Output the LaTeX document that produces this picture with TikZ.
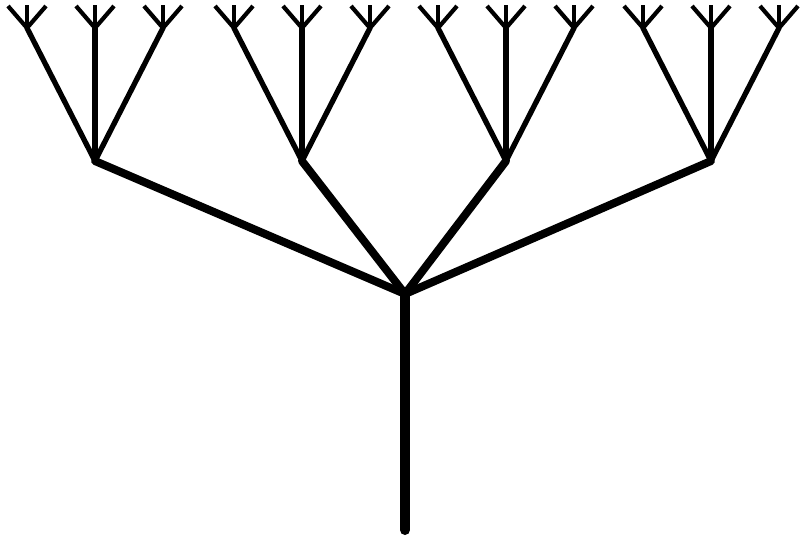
\documentclass[tikz,border=0pt]{standalone}
\begin{document}
\begin{tikzpicture}[x=1pt,y=-1pt,
  trunk/.style={line width=10pt,line cap=round},
  lvlone/.style={line width=8pt,line cap=round,line join=round},
  lvltwo/.style={line width=5.3pt,line cap=round},
  prong/.style={line width=4.2pt}]
\useasboundingbox (0,0) rectangle (800,539);
\coordinate (base) at (405,530);
\coordinate (root) at (405,294);
\foreach \i/\gx in {1/95,2/302,3/506,4/711}{
  \coordinate (g\i) at (\gx,161);
  \draw[lvlone] (root) -- (g\i);
  \foreach \j/\dx in {1/-68,2/0,3/68}{
    \coordinate (t\i\j) at (\gx+\dx,28);
    \draw[lvltwo] (g\i) -- (t\i\j);
    \coordinate (pl\i\j) at (\gx+\dx-19,6);
    \coordinate (pm\i\j) at (\gx+\dx,5);
    \coordinate (pr\i\j) at (\gx+\dx+19,6);
    \draw[prong] (t\i\j) -- (pl\i\j);
    \draw[prong] (t\i\j) -- (pm\i\j);
    \draw[prong] (t\i\j) -- (pr\i\j);
  }
}
\draw[trunk] (base) -- (root);
\end{tikzpicture}
\end{document}
